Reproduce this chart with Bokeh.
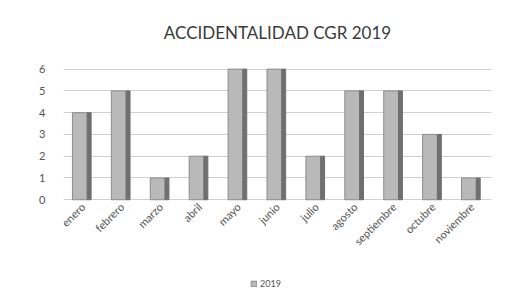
from math import pi
from bokeh.plotting import figure
from bokeh.models import ColumnDataSource, Legend, LegendItem
from bokeh.transform import dodge
from bokeh.embed import file_html
from bokeh.resources import INLINE

months = ["enero", "febrero", "marzo", "abril", "mayo", "junio", "julio",
          "agosto", "septiembre", "octubre", "noviembre"]
values_2019 = [4, 5, 1, 2, 6, 6, 2, 5, 5, 3, 1]
y_ticks = [0, 1, 2, 3, 4, 5, 6]
series_name = "2019"
title_text = "ACCIDENTALIDAD CGR 2019"

src = ColumnDataSource(dict(m=months, v=values_2019))

p = figure(x_range=months, y_range=(-4.4, 6.35), frame_width=428, frame_height=234,
           output_backend="svg", toolbar_location=None,
           title=title_text, min_border_left=63, min_border_right=12,
           min_border_top=61, min_border_bottom=2)
p.title.align = "center"
p.title.text_font = "Lato"
p.title.text_font_size = "17px"
p.title.text_font_style = "normal"
p.title.text_color = "#3a3a3a"
p.title.standoff = 37

p.outline_line_color = None
p.border_fill_color = "white"
p.background_fill_color = "white"

front = p.vbar(x=dodge("m", -0.08, range=p.x_range), top="v", width=0.38,
               source=src, fill_color="#b9b9b9", line_color="#8c8c8c",
               line_width=1)
p.vbar(x=dodge("m", 0.16, range=p.x_range), top="v", width=0.1,
       source=src, fill_color="#6f6f6f", line_color="#6f6f6f")

p.yaxis.ticker = y_ticks
p.yaxis.axis_line_color = None
p.yaxis.major_tick_line_color = None
p.yaxis.minor_tick_line_color = None
p.yaxis.major_tick_out = 0
p.yaxis.major_tick_in = 0
p.yaxis.major_label_standoff = 18
p.yaxis.major_label_text_align = "right"
p.yaxis.major_label_text_font = "Lato"
p.yaxis.major_label_text_font_size = "11px"
p.yaxis.major_label_text_color = "#555555"

p.xaxis.fixed_location = 0
p.xaxis.axis_line_color = None
p.xaxis.major_tick_line_color = None
p.xaxis.major_tick_out = 0
p.xaxis.major_tick_in = 0
p.xaxis.major_label_orientation = pi / 4
p.xaxis.major_label_text_font = "Lato"
p.xaxis.major_label_text_font_size = "11px"
p.xaxis.major_label_text_color = "#555555"
p.xaxis.major_label_standoff = 5

p.xgrid.grid_line_color = None
p.ygrid.grid_line_color = "#cfcfcf"
p.ygrid.grid_line_width = 1

legend = Legend(items=[LegendItem(label=series_name, renderers=[front])],
                orientation="horizontal", location=(187, 6),
                label_text_font="Lato", label_text_font_size="9px",
                label_text_color="#555555", glyph_width=7, glyph_height=7,
                border_line_color=None, background_fill_alpha=0,
                padding=0, margin=0, spacing=2, label_standoff=3,
                label_height=10)
p.add_layout(legend, "center")

open("out.html", "w").write(file_html(p, INLINE))
